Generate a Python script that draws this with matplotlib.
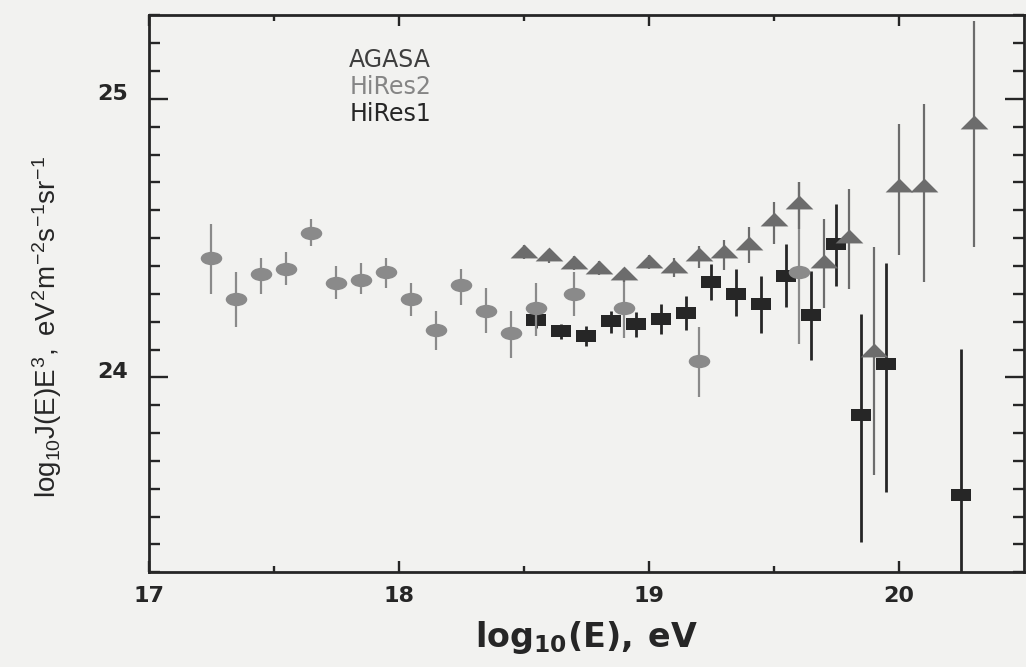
import numpy as np
import matplotlib
matplotlib.use("Agg")
import matplotlib.pyplot as plt
from matplotlib.path import Path
from matplotlib.transforms import Affine2D, ScaledTranslation

plt.rcParams['font.family'] = ['DejaVu Sans']
plt.rcParams['mathtext.fontset'] = 'custom'
plt.rcParams['mathtext.rm'] = 'Liberation Sans'
plt.rcParams['mathtext.it'] = 'Liberation Sans'
plt.rcParams['mathtext.bf'] = 'DejaVu Sans:bold'

# --- data: log10(E) [eV], log10(J E^3) and asymmetric errors ---
hires2_x = [17.25, 17.35, 17.45, 17.55, 17.65, 17.75, 17.85, 17.95, 18.05,
            18.15, 18.25, 18.35, 18.45, 18.55, 18.70, 18.90, 19.20, 19.60]
hires2_y = [24.43, 24.28, 24.37, 24.39, 24.52, 24.34, 24.35, 24.38, 24.28,
            24.17, 24.33, 24.24, 24.16, 24.25, 24.30, 24.25, 24.06, 24.38]
hires2_lo = [0.13, 0.10, 0.07, 0.06, 0.05, 0.06, 0.05, 0.06, 0.06,
             0.07, 0.07, 0.08, 0.09, 0.10, 0.08, 0.11, 0.13, 0.26]
hires2_hi = [0.12, 0.10, 0.06, 0.06, 0.05, 0.06, 0.06, 0.05, 0.06,
             0.07, 0.06, 0.08, 0.08, 0.09, 0.08, 0.10, 0.12, 0.32]

agasa_x = [18.5, 18.6, 18.7, 18.8, 18.9, 19.0, 19.1, 19.2, 19.3, 19.4,
           19.5, 19.6, 19.7, 19.8, 19.9, 20.0, 20.1, 20.3]
agasa_y = [24.455, 24.442, 24.415, 24.397, 24.373, 24.418, 24.400, 24.442, 24.454, 24.484,
           24.568, 24.631, 24.418, 24.508, 24.098, 24.690, 24.692, 24.918]
agasa_lo = [0.03, 0.03, 0.03, 0.03, 0.03, 0.03, 0.04, 0.05, 0.07, 0.075,
            0.09, 0.10, 0.17, 0.19, 0.45, 0.25, 0.35, 0.45]
agasa_hi = [0.02, 0.02, 0.02, 0.02, 0.02, 0.02, 0.03, 0.03, 0.04, 0.056,
            0.063, 0.072, 0.15, 0.17, 0.37, 0.22, 0.29, 0.36]

hires1_x = [18.55, 18.65, 18.75, 18.85, 18.95, 19.05, 19.15, 19.25, 19.35, 19.45,
            19.55, 19.65, 19.75, 19.85, 19.95, 20.25]
hires1_y = [24.207, 24.167, 24.149, 24.201, 24.191, 24.209, 24.231, 24.341, 24.301, 24.263,
            24.364, 24.224, 24.478, 23.865, 24.048, 23.576]
hires1_lo = [0.03, 0.03, 0.036, 0.04, 0.045, 0.053, 0.061, 0.064, 0.08, 0.105,
             0.113, 0.162, 0.149, 0.456, 0.46, 0.60]
hires1_hi = [0.03, 0.024, 0.036, 0.038, 0.044, 0.056, 0.061, 0.065, 0.088, 0.102,
             0.114, 0.158, 0.146, 0.364, 0.364, 0.526]

legend_names = ["AGASA", "HiRes2", "HiRes1"]
legend_colors = ["#3e3e3e", "#858585", "#262626"]

xticks = [17, 18, 19, 20]
yticks = [24, 25]

# --- marker shapes: flattened triangle, ellipse, flat rectangle ---
tri = Path([(-1.0, -0.5), (1.0, -0.5), (0.0, 0.5), (-1.0, -0.5)],
           [Path.MOVETO, Path.LINETO, Path.LINETO, Path.CLOSEPOLY])
circ = Path.unit_circle()
ell = Path(Affine2D().scale(1.0, 0.62).transform(circ.vertices), circ.codes)
rect = Path([(-1.0, -0.6), (1.0, -0.6), (1.0, 0.6), (-1.0, 0.6), (-1.0, -0.6)],
            [Path.MOVETO, Path.LINETO, Path.LINETO, Path.LINETO, Path.CLOSEPOLY])

bg = "#f2f2f0"
ink = "#262626"
fig = plt.figure(figsize=(10.26, 6.67), dpi=100, facecolor=bg)
ax = fig.add_axes([0.145, 0.142, 0.853, 0.835], facecolor=bg)

c_sq, c_el, c_tr = "#262626", "#8a8a8a", "#6c6c6c"

ax.errorbar(hires1_x, hires1_y, yerr=[hires1_lo, hires1_hi], fmt='none',
            ecolor=c_sq, elinewidth=2.0, capsize=0, zorder=2)
ax.plot(hires1_x, hires1_y, linestyle='none', marker=rect, markersize=14.5,
        color=c_sq, markeredgewidth=0, zorder=3)

ax.errorbar(hires2_x, hires2_y, yerr=[hires2_lo, hires2_hi], fmt='none',
            ecolor=c_el, elinewidth=1.6, capsize=0, zorder=4)
ax.plot(hires2_x, hires2_y, linestyle='none', marker=ell, markersize=15.5,
        color=c_el, markeredgewidth=0, zorder=5)

ax.errorbar(agasa_x, agasa_y, yerr=[agasa_lo, agasa_hi], fmt='none',
            ecolor=c_tr, elinewidth=1.6, capsize=0, zorder=6)
ax.plot(agasa_x, agasa_y, linestyle='none', marker=tri, markersize=20,
        color=c_tr, markeredgewidth=0, zorder=7)

ax.set_xlim(17.0, 20.5)
ax.set_ylim(23.3, 25.3)

ax.set_xticks(xticks)
ax.set_xticks(np.arange(17.5, 20.5, 1.0), minor=True)
ax.set_yticks(yticks)
ax.set_yticks(np.arange(23.3, 25.31, 0.1), minor=True)
ax.set_xticklabels([str(v) for v in xticks], fontsize=16, fontweight='bold', color=ink)
ax.set_yticklabels([str(v) for v in yticks], fontsize=16, fontweight='bold', color=ink)

ax.tick_params(axis='both', which='both', direction='in', top=True, right=True,
               color=ink, width=1.7)
ax.tick_params(axis='x', which='major', length=8, pad=10)
ax.tick_params(axis='x', which='minor', length=4.5)
ax.tick_params(axis='y', which='major', length=14, pad=15)
ax.tick_params(axis='y', which='minor', length=8)
for s in ax.spines.values():
    s.set_linewidth(2.0)
    s.set_color(ink)

# y tick labels sit slightly above their ticks
for lab in ax.get_yticklabels():
    lab.set_transform(lab.get_transform() + ScaledTranslation(0, 5 / 72, fig.dpi_scale_trans))

ax.set_xlabel(r'$\mathbf{log_{10}(E),\ eV}$', fontsize=24, color=ink, labelpad=9)
ax.set_ylabel(r'$log_{10}J(E)E^3,\ eV^2m^{-2}s^{-1}sr^{-1}$', fontsize=20, color=ink)
ax.yaxis.set_label_coords(-0.097, 0.44)

for i, (name, col) in enumerate(zip(legend_names, legend_colors)):
    ax.text(0.229, 0.919 - 0.0485 * i, name, transform=ax.transAxes, fontsize=17,
            color=col, va='center', ha='left')

fig.savefig("out.png", dpi=100, facecolor=bg)
